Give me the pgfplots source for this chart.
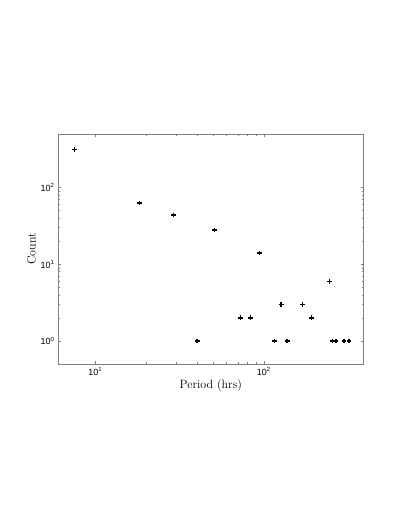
\documentclass[border=0pt]{standalone}
\usepackage{pgfplots}
\pgfplotsset{compat=1.18}
\usepackage{fontspec}
\newfontfamily\ticksans{Liberation Sans}
\begin{document}
\begin{tikzpicture}
\begin{axis}[
  name=ax,
  xmode=log, ymode=log,
  scale only axis,
  width=305.7pt, height=230pt,
  xmin=6, xmax=392, ymin=0.5, ymax=500,
  axis line style={draw=black!50, line width=0.6pt},
  every tick/.style={draw=black!50, line width=0.4pt},
  tick align=inside,
  major tick length=3pt, minor tick length=1.8pt,
  xtick={10,100}, xticklabels={10\textsuperscript{1},10\textsuperscript{2}},
  ytick={1,10,100}, yticklabels={10\textsuperscript{0},10\textsuperscript{1},10\textsuperscript{2}},
  ticklabel style={font=\fontsize{9}{10}\selectfont\ticksans},
  xlabel={Period (hrs)}, ylabel={Count},
  label style={font=\fontsize{12}{14}\selectfont},
  xlabel style={yshift=3pt},
  ylabel style={yshift=-2pt},
]
\addplot[only marks, mark=+, mark size=2.4pt, line width=1.5pt, black] coordinates {
(7.5,316) (18.3,63) (29.2,44) (40.2,1) (50.9,28) (72.6,2) (83.2,2) (94,14)
(115.7,1) (126.8,3) (137.6,1) (169.8,3) (192,2) (246,6) (256,1) (268,1) (299,1) (321,1)
};
\end{axis}
\path (ax.south west) ++(-58pt,-163pt) rectangle ++(407pt,527pt);
\end{tikzpicture}
\end{document}
